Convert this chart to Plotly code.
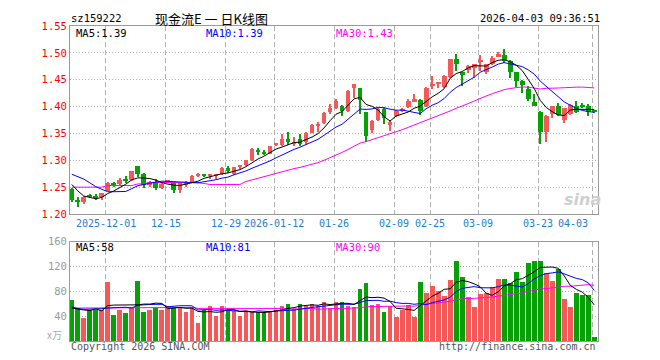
import plotly.graph_objects as go

# ---------------- data ----------------
opens = [1.247, 1.226, 1.222, 1.234, 1.234, 1.231, 1.243, 1.258, 1.255, 1.266,
         1.263, 1.289, 1.275, 1.254, 1.260, 1.248, 1.260, 1.258, 1.244, 1.254,
         1.259, 1.272, 1.273, 1.271, 1.271, 1.274, 1.285, 1.275, 1.288, 1.292,
         1.301, 1.320, 1.3145, 1.3125, 1.329, 1.328, 1.340, 1.3306, 1.339, 1.334,
         1.351, 1.365, 1.369, 1.389, 1.398, 1.401, 1.391, 1.434, 1.434, 1.389,
         1.357, 1.375, 1.395, 1.365, 1.383, 1.392, 1.399, 1.409, 1.4125, 1.402,
         1.4385, 1.4425, 1.436, 1.4555, 1.488, 1.465, 1.4685, 1.4715, 1.4835, 1.4635,
         1.479, 1.493, 1.496, 1.485, 1.4635, 1.448, 1.4335, 1.409, 1.390, 1.353,
         1.387, 1.402, 1.375, 1.387, 1.402, 1.402, 1.401, 1.391]
highs = [1.248, 1.231, 1.233, 1.237, 1.238, 1.240, 1.259, 1.259, 1.267, 1.270,
         1.281, 1.289, 1.276, 1.262, 1.265, 1.259, 1.263, 1.260, 1.259, 1.262,
         1.272, 1.276, 1.275, 1.275, 1.274, 1.287, 1.290, 1.288, 1.292, 1.301,
         1.323, 1.322, 1.319, 1.3275, 1.3325, 1.349, 1.353, 1.343, 1.349, 1.3525,
         1.367, 1.372, 1.389, 1.404, 1.415, 1.403, 1.431, 1.442, 1.435, 1.390,
         1.375, 1.397, 1.399, 1.375, 1.393, 1.397, 1.414, 1.424, 1.414, 1.436,
         1.457, 1.4465, 1.459, 1.489, 1.497, 1.465, 1.4765, 1.4795, 1.496, 1.4795,
         1.495, 1.502, 1.507, 1.486, 1.464, 1.449, 1.438, 1.4235, 1.392, 1.384,
         1.402, 1.407, 1.398, 1.404, 1.410, 1.407, 1.404, 1.392]
lows = [1.222, 1.214, 1.218, 1.229, 1.227, 1.227, 1.242, 1.250, 1.252, 1.258,
        1.262, 1.269, 1.248, 1.251, 1.244, 1.246, 1.257, 1.239, 1.240, 1.251,
        1.257, 1.269, 1.268, 1.266, 1.266, 1.272, 1.276, 1.272, 1.284, 1.290,
        1.298, 1.309, 1.309, 1.311, 1.326, 1.326, 1.329, 1.326, 1.326, 1.329,
        1.350, 1.353, 1.367, 1.386, 1.395, 1.383, 1.390, 1.416, 1.387, 1.334,
        1.351, 1.374, 1.367, 1.355, 1.381, 1.389, 1.397, 1.408, 1.384, 1.400,
        1.433, 1.434, 1.4345, 1.454, 1.4665, 1.439, 1.462, 1.454, 1.4665, 1.461,
        1.478, 1.492, 1.481, 1.454, 1.436, 1.425, 1.410, 1.4005, 1.330, 1.334,
        1.379, 1.382, 1.370, 1.385, 1.3885, 1.3965, 1.382, 1.389]
closes = [1.226, 1.222, 1.231, 1.232, 1.231, 1.239, 1.258, 1.255, 1.264, 1.262,
          1.280, 1.275, 1.254, 1.259, 1.248, 1.256, 1.261, 1.244, 1.257, 1.260,
          1.271, 1.273, 1.271, 1.274, 1.272, 1.285, 1.280, 1.287, 1.289, 1.300,
          1.321, 1.315, 1.313, 1.326, 1.3295, 1.340, 1.334, 1.335, 1.3306, 1.351,
          1.366, 1.366, 1.3875, 1.3975, 1.411, 1.392, 1.429, 1.442, 1.412, 1.345,
          1.374, 1.396, 1.379, 1.372, 1.391, 1.396, 1.411, 1.414, 1.392, 1.434,
          1.4395, 1.4435, 1.457, 1.488, 1.479, 1.459, 1.476, 1.479, 1.484, 1.479,
          1.491, 1.498, 1.485, 1.4635, 1.448, 1.441, 1.415, 1.401, 1.353, 1.382,
          1.401, 1.385, 1.3965, 1.4025, 1.390, 1.401, 1.390, 1.390]
volumes = [66, 53, 38, 50, 51, 51, 95, 42, 51, 46,
           54, 98, 48, 51, 54, 51, 57, 54, 54, 47,
           53, 30, 50, 57, 41, 57, 49, 49, 41, 47,
           47, 47, 47, 47, 51, 57, 61, 52, 60, 57,
           61, 57, 64, 54, 64, 64, 57, 55, 84, 94,
           59, 60, 48, 57, 40, 51, 58, 40, 95, 78,
           89, 81, 73, 99, 130, 104, 72, 55, 76, 78,
           87, 100, 101, 94, 111, 95, 127, 130, 130, 110,
           98, 117, 68, 55, 78, 75, 75, 7]

# moving-average values before a full window is available
ma5_head = [1.255, 1.243, 1.2335, 1.2305]
ma10_head = [1.274, 1.270, 1.265, 1.258, 1.251, 1.246, 1.2415, 1.2415, 1.2415]
ma30_head = [1.250, 1.250, 1.250, 1.250, 1.250, 1.250, 1.253, 1.253, 1.253, 1.253,
             1.253, 1.256, 1.256, 1.259, 1.259, 1.259, 1.259, 1.259, 1.259, 1.259,
             1.259, 1.258, 1.257, 1.255, 1.255, 1.255, 1.255, 1.255, 1.255]
vma5_head = [53, 51, 50, 49]
vma10_head = [55, 52, 51, 51, 51, 52, 53, 54, 54]
vma30_head = [53, 53, 53, 53, 53, 53, 54, 54, 54, 54,
              54, 54, 54, 54, 54, 54, 54, 54, 54, 54,
              54, 52.5, 52.5, 52.5, 52.5, 52.5, 52.5, 52.5, 52.5]

tick_idx = [6, 16, 26, 34, 44, 54, 60, 68, 78, 87]
tick_text = ["2025-12-01", "12-15", "12-29", "2026-01-12", "01-26",
             "02-09", "02-25", "03-09", "03-23", "04-03"]
price_ticks = [1.20, 1.25, 1.30, 1.35, 1.40, 1.45, 1.50, 1.55]
vol_ticks = [40, 80, 120, 160]

code = "sz159222"
title = "现金流E 一 日K线图"
stamp = "2026-04-03 09:36:51"

# ---------------- derived ----------------
def moving_avg(vals, window, head):
    out = list(head)
    for i in range(len(head), len(vals)):
        out.append(sum(vals[i - window + 1:i + 1]) / window)
    return out

n = len(closes)
idx = list(range(n))
ma5 = moving_avg(closes, 5, ma5_head)
ma10 = moving_avg(closes, 10, ma10_head)
ma30 = moving_avg(closes, 30, ma30_head)
vma5 = moving_avg(volumes, 5, vma5_head)
vma10 = moving_avg(volumes, 10, vma10_head)
vma30 = moving_avg(volumes, 30, vma30_head)

RED = "#f45858"
GREEN = "#07a007"
colors = [RED if c >= o else GREEN for o, c in zip(opens, closes)]
body_base = [min(o, c) for o, c in zip(opens, closes)]
body_h = [max(abs(c - o), 0.0019) for o, c in zip(opens, closes)]
wick_h = [h - l for h, l in zip(highs, lows)]

MONO = "DejaVu Sans Mono"
CJK = "Noto Sans CJK SC"

fig = go.Figure()
fig.add_trace(go.Bar(x=idx, y=wick_h, base=lows, width=0.17,
                     marker=dict(color=colors, line=dict(width=0)),
                     xaxis="x", yaxis="y", hoverinfo="skip"))
fig.add_trace(go.Bar(x=idx, y=body_h, base=body_base, width=0.8,
                     marker=dict(color=colors, line=dict(width=0)),
                     xaxis="x", yaxis="y"))
for vals, col in [(ma30, "#ff00ff"), (ma10, "#0000ff"), (ma5, "#000000")]:
    fig.add_trace(go.Scatter(x=idx, y=vals, mode="lines",
                             line=dict(color=col, width=1), xaxis="x", yaxis="y"))

fig.add_trace(go.Bar(x=idx, y=volumes, width=0.8,
                     marker=dict(color=colors, line=dict(width=0)),
                     xaxis="x2", yaxis="y2"))
for vals, col in [(vma30, "#ff00ff"), (vma10, "#0000ff"), (vma5, "#000000")]:
    fig.add_trace(go.Scatter(x=idx, y=vals, mode="lines",
                             line=dict(color=col, width=1), xaxis="x2", yaxis="y2"))

# the page body adds an 8px offset, so the figure is 8px smaller each way
OFF = 8
ML, MR, MT, MB = 70 - OFF, 62, 21 - OFF, 19
FW, FH = 660 - OFF, 360 - OFF
W, H = FW - ML - MR, FH - MT - MB
def px(x):
    return (x - OFF - ML) / W
def py(y):
    return (FH - MB - (y - OFF)) / H

grid_x = [t - 0.33 for t in tick_idx]
xcommon = dict(range=[-0.3, 87.62], tickvals=grid_x, showticklabels=False,
               showgrid=True, gridcolor="#b0b0b0", griddash="5px,3px", gridwidth=1,
               showline=True, linecolor="#9a9a9a", linewidth=1, mirror=True,
               zeroline=False, ticks="", fixedrange=True)
fig.update_layout(
    width=FW, height=FH,
    margin=dict(l=ML, r=MR, t=MT, b=MB),
    paper_bgcolor="white", plot_bgcolor="white",
    barmode="overlay", bargap=0, showlegend=False,
    xaxis=dict(anchor="y", domain=[0, 1], **xcommon),
    xaxis2=dict(anchor="y2", domain=[0, 1], matches="x", **xcommon),
    yaxis=dict(domain=[py(212), 1], range=[1.20, 1.55], tickvals=price_ticks,
               ticktext=["%.2f" % v for v in price_ticks],
               tickfont=dict(family=MONO, size=10.5, color="#ff0000"),
               showgrid=True, gridcolor="#b0b0b0", griddash="1px,2px", gridwidth=1,
               showline=True, linecolor="#9a9a9a", linewidth=1, mirror=True,
               zeroline=False, ticks="", anchor="x"),
    yaxis2=dict(domain=[0, py(240)], range=[0, 160], tickvals=vol_ticks,
                ticktext=[str(v) for v in vol_ticks],
                tickfont=dict(family=MONO, size=10.5, color="#999999"),
                showgrid=True, gridcolor="#b0b0b0", griddash="1px,2px", gridwidth=1,
                showline=True, linecolor="#9a9a9a", linewidth=1, mirror=True,
                zeroline=False, ticks="", anchor="x2"),
)

anns = []
def ann(text, x, y, color="#000000", size=10, xanchor="left", family=MONO, **kw):
    anns.append(dict(text=text, x=px(x), y=py(y), xref="paper", yref="paper",
                     xanchor=xanchor, yanchor="middle", showarrow=False,
                     font=dict(family=family, size=size, color=color), **kw))

ann(code, 69, 13, size=10.5)
ann(title, 211, 13, size=13, xanchor="center", family=CJK)
ann(stamp, 602, 13, size=10.5, xanchor="right")
ann("MA5:%.2f" % ma5[-1], 74, 28, size=10.5)
ann("MA10:%.2f" % ma10[-1], 204, 28, color="#0000ff", size=10.5)
ann("MA30:%.2f" % ma30[-1], 334, 28, color="#ff00ff", size=10.5)
ann("MA5:%d" % round(vma5[-1]), 74, 246, size=10.5)
ann("MA10:%d" % round(vma10[-1]), 204, 246, color="#0000ff", size=10.5)
ann("MA30:%d" % round(vma30[-1]), 334, 246, color="#ff00ff", size=10.5)
ann("x万", 64, 334, color="#aaaaaa", size=10, xanchor="right", family=CJK)
ann("Copyright 2026 SINA.COM", 69, 347, color="#555555", size=10)
ann("http://finance.sina.com.cn", 598, 347, color="#555555", size=10, xanchor="right")
ann("<b><i>sina</i></b>", 582, 197, color="#cfcfcf", size=16, xanchor="center",
    family="DejaVu Sans")

for i, (t, lab) in enumerate(zip(grid_x, tick_text)):
    last = i == len(grid_x) - 1
    anns.append(dict(text=lab, x=t, y=py(221.5), xref="x", yref="paper",
                     xanchor="right" if last else "center", yanchor="middle",
                     xshift=-2 if last else 0, showarrow=False,
                     font=dict(family=MONO, size=10, color="#1a7fd0")))

fig.update_layout(annotations=anns)
fig.write_html("out.html")
